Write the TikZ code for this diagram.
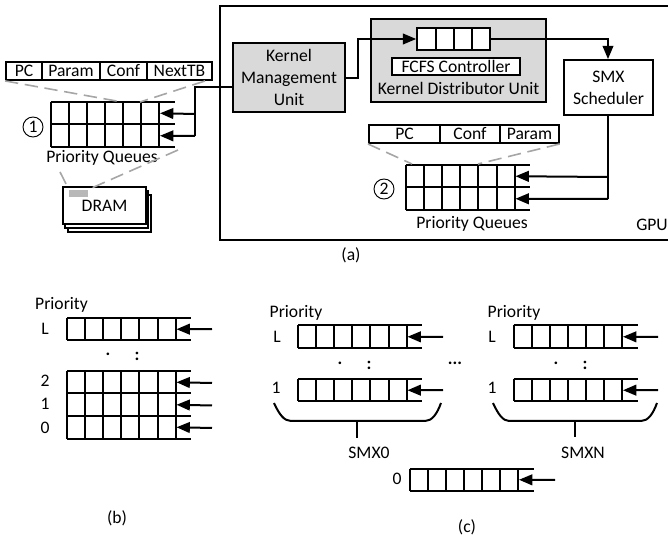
\documentclass[tikz,border=0pt]{standalone}
\usepackage{fontspec}
\setmainfont{Carlito}
\usetikzlibrary{arrows.meta,calc}
\definecolor{boxgray}{HTML}{D9D9D9}
\definecolor{dashgray}{HTML}{A6A6A6}
\tikzset{
    lbl/.style={inner sep=0pt,font=\fontsize{13.2}{16.5}\selectfont},
    unitbox/.style={draw,line width=1.6pt,align=center,inner sep=0pt,lbl},
    field/.style={draw,line width=1.4pt,fill=white,inner sep=0pt,minimum height=13.5pt,lbl},
    link/.style={line width=1.5pt},
    feed/.style={line width=1.5pt,-{Triangle[length=10pt,width=8pt]}},
    zoomline/.style={dashgray,line width=1.2pt,dash pattern=on 10pt off 5pt},
    grid/.style={line width=1.5pt},
    num/.style={draw,circle,line width=0.7pt,inner sep=0pt,minimum size=15pt,lbl},
    gap/.style={inner sep=0pt,font=\fontsize{13.2}{15.2}\selectfont\bfseries},
}
% one queue: left end #1, top #2, name #3, rows #4
\newcommand{\prioqueue}[4]{
    \coordinate (#3) at (#1,#2);
    \coordinate (#3e) at (#1+124,#2);
    \foreach \r in {0,...,#4} {
        \draw[grid] ($(#3)+(0,\r*22.5)$) -- ($(#3e)+(0,\r*22.5)$);
    }
    \foreach \c in {0,...,6} {
        \draw[grid] ($(#3)+(\c*18.1,0)$) -- ($(#3)+(\c*18.1,#4*22.5)$);
    }
    \foreach \r in {1,...,#4} {
        \coordinate (#3t\r) at ($(#3)+(109.5,\r*22.5-11.25)$);
    }
}
\begin{document}
\begin{tikzpicture}[x=0.75pt,y=-0.75pt]
        \useasboundingbox (0,0) rectangle (668,538);
        % (a)
        \draw[line width=1.5pt] (668,6) -- (220,6) -- (220,240) -- (668,240);
        \node[lbl] (gpu) at (652,225) {GPU};
        \node[lbl] (capa) at (351,255) {(a)};

        \node[unitbox,fill=boxgray,minimum width=84pt,minimum height=52pt] (kmu) at (289,77.5) {Kernel\\Management\\Unit};
        \node[draw,line width=1.6pt,fill=boxgray,minimum width=131pt,minimum height=62pt] (kdu) at (458.5,60.5) {};
        \node[lbl] (kdutext) at (458.5,88) {Kernel Distributor Unit};
        \node[field,minimum width=96pt,minimum height=13pt] (fcfs) at (456,66.5) {FCFS Controller};
        \node[unitbox,minimum width=66.5pt,minimum height=41pt] (smx) at (608.5,87.5) {SMX\\Scheduler};

        % small queue in the distributor
        \node[draw,line width=1.5pt,fill=white,minimum width=54.5pt,minimum height=16pt,inner sep=0pt] (kq) at (453.5,39) {};
        \draw[line width=1.5pt] (436,28) -- (436,50);
        \draw[line width=1.5pt] (454,28) -- (454,50);
        \draw[line width=1.5pt] (472,28) -- (472,50);

        \coordinate (kmur) at (358,78);
        \coordinate (kmuu) at (358,39);
        \draw[feed] (kmu.east |- kmur) -- (kmur) -- (kmuu) -- (kq.west);
        \coordinate (kqr) at (608,39);
        \draw[feed] (kq.east) -- (kqr) -- (smx.north -| kqr);

        % queue 1 with its fields
        \node[field,minimum width=27pt] (pca) at (24,71) {PC};
        \node[field,minimum width=43.5pt] (parama) at (71,71) {Param};
        \node[field,minimum width=35.3pt] (confa) at (123.5,71) {Conf};
        \node[field,minimum width=48.7pt] (nexta) at (179.5,71) {NextTB};
        \prioqueue{50.5}{102}{qa}{2}
        \coordinate (qad) at (122,102);
        \coordinate (qae) at (140,102);
        \coordinate (nextb) at (205,81);
        \draw[zoomline] (pca.south west) -- (qad);
        \draw[zoomline] (nextb) -- (qae);
        \node[num] (one) at (33,127) {1};
        \node[lbl] (pqa) at (102,158) {Priority Queues};

        \node[draw,line width=1.2pt,fill=white,minimum width=62pt,minimum height=28pt] (dramc) at (109.5,213.5) {};
        \node[draw,line width=1.2pt,fill=white,minimum width=62pt,minimum height=28pt] (dramb) at (106.5,209.5) {};
        \node[draw,line width=1.6pt,fill=white,minimum width=62pt,minimum height=28pt,lbl] (dram) at (104.5,205.5) {DRAM};
        \node[fill=dashgray!80,minimum width=14pt,minimum height=5.5pt,inner sep=0pt] (slot) at (78.5,193.5) {};
        \coordinate (pqal) at (60,172);
        \coordinate (pqar) at (178,150);
        \draw[zoomline] (pqal) -- (slot.north west);
        \draw[zoomline] (pqar) -- (slot.north east);

        \coordinate (kmul) at (195,87);
        \coordinate (jointa) at (195,114);
        \coordinate (jointb) at (195,136);
        \draw[link] (kmu.west |- kmul) -- (kmul) -- (jointb);
        \draw[feed] (jointa) -- (qat1);
        \draw[feed] (jointb) -- (qat2);

        % queue 2 with its fields
        \node[field,minimum width=53.5pt] (pcb) at (404.5,134) {PC};
        \node[field,minimum width=45pt] (confb) at (470,134) {Conf};
        \node[field,minimum width=44pt] (paramb) at (529.5,134) {Param};
        \prioqueue{406}{165}{qb}{2}
        \coordinate (qbd) at (412,164);
        \coordinate (qbe) at (478,164);
        \draw[zoomline] (pcb.south west) -- (qbd);
        \draw[zoomline] (paramb.south east) -- (qbe);
        \node[num] (two) at (384,189) {2};
        \node[lbl] (pqb) at (472,224) {Priority Queues};
        \coordinate (jointc) at (608,177);
        \coordinate (jointd) at (608,199);
        \draw[link] (smx.south -| jointd) -- (jointd);
        \draw[feed] (jointc) -- (qbt1);
        \draw[feed] (jointd) -- (qbt2);

        % (b)
        \node[lbl] (prb) at (61.5,305) {Priority};
        \prioqueue{67}{318}{qc}{1}
        \prioqueue{67}{371}{qd}{3}
        \node[lbl] (lc) at (45,329) {L};
        \node[lbl] (cd) at (45,381) {2};
        \node[lbl] (bd) at (45,404) {1};
        \node[lbl] (ad) at (45,428) {0};
        \node[gap] (dotc) at (108,354) {.};
        \node[gap] (colc) at (137,356) {:};
        \coordinate (inc) at (212,329);
        \coordinate (ind) at (212,383);
        \coordinate (ine) at (212,405.5);
        \coordinate (inf) at (212,428);
        \draw[feed] (inc) -- (qct1);
        \draw[feed] (ind) -- (qdt1);
        \draw[feed] (ine) -- (qdt2);
        \draw[feed] (inf) -- (qdt3);
        \node[lbl] (capb) at (117,518) {(b)};

        % (c)
        \node[lbl] (prl) at (296,313) {Priority};
        \prioqueue{298}{325.5}{ql}{1}
        \prioqueue{298}{379}{qm}{1}
        \node[lbl] (ll) at (277,337) {L};
        \node[lbl] (ol) at (276,388) {1};
        \node[gap] (dotl) at (340,363) {.};
        \node[gap] (coll) at (369,365) {:};
        \coordinate (inl) at (443,337);
        \coordinate (inm) at (443,390);
        \draw[feed] (inl) -- (qlt1);
        \draw[feed] (inm) -- (qmt1);
        \coordinate (bla) at (274,403);
        \coordinate (blb) at (291,421);
        \coordinate (blc) at (425,421);
        \coordinate (bld) at (441,403);
        \draw[link] (bla) .. controls (279,414) and (284,421) .. (blb) -- (blc) .. controls (432,421) and (437,414) .. (bld);
        \node[lbl] (smxa) at (369,453) {SMX0};
        \coordinate (sta) at (357,421);
        \coordinate (stb) at (357,438);
        \draw[link] (sta) -- (stb);

        \node[gap] (more) at (455,363) {...};

        \node[lbl] (prr) at (514,313) {Priority};
        \prioqueue{513.5}{325.5}{qr}{1}
        \prioqueue{513.5}{379}{qs}{1}
        \node[lbl] (lr) at (492,337) {L};
        \node[lbl] (or) at (492,388) {1};
        \node[gap] (dotr) at (556,363) {.};
        \node[gap] (colr) at (585,365) {:};
        \coordinate (inr) at (658,337);
        \coordinate (ins) at (658,390);
        \draw[feed] (inr) -- (qrt1);
        \draw[feed] (ins) -- (qst1);
        \coordinate (bra) at (493,403);
        \coordinate (brb) at (509,421);
        \coordinate (brc) at (641,421);
        \coordinate (brd) at (657,403);
        \draw[link] (bra) .. controls (498,414) and (503,421) .. (brb) -- (brc) .. controls (648,421) and (653,414) .. (brd);
        \node[lbl] (smxn) at (583,453) {SMXN};
        \coordinate (stc) at (574.5,421);
        \coordinate (std) at (574.5,437);
        \draw[link] (stc) -- (std);

        \prioqueue{409.5}{468.5}{qz}{1}
        \node[lbl] (zero) at (397,479) {0};
        \coordinate (inz) at (555,480);
        \draw[feed] (inz) -- (qzt1);
        \node[lbl] (capc) at (467,527) {(c)};
    \end{tikzpicture}
\end{document}
